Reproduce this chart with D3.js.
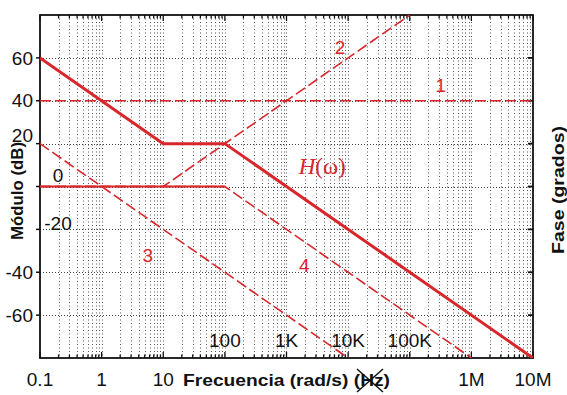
<!DOCTYPE html>
<html>
<head>
<meta charset="utf-8">
<script src="https://cdnjs.cloudflare.com/ajax/libs/d3/7.8.5/d3.min.js"></script>
<style>
  body{margin:0;background:#fff;}
  svg text{font-family:"Liberation Sans",Arial,sans-serif;}
</style>
</head>
<body>
<svg id="chart" width="567" height="395"></svg>
<script>
// data ---------------------------
var xTicks=[0.1,1,10,100,1e3,1e4,1e5,1e6,1e7];
var xTickLabels=['0.1','1','10','100','1K','10K','100K','1M','10M'];
var yTicks=[-60,-40,-20,0,20,40,60];
var yTickLabels=['-60','-40','-20','0','20','40','60'];
// asymptotes [freq, dB]
var curve1=[[0.1,40],[1e7,40]];
var curve2=[[0.1,0],[10,0],[1e5,80]];
var curve3=[[0.1,20],[1e4,-80]];
var curve4=[[0.1,0],[100,0],[1e6,-80]];
var curveH=[[0.1,60],[10,20],[100,20],[1e7,-80]];
var curveLabels=[{t:'1',f:3.2e5,db:47},{t:'2',f:7400,db:65},{t:'3',f:5.6,db:-32},{t:'4',f:1950,db:-37}];

var red='#d8262b';
var svg=d3.select('#chart');
var pLeft=40,pRight=533,pTop=15,pBottom=358;

var x=d3.scaleLog().domain([0.1,1e7]).range([pLeft,pRight]);
var y=d3.scaleLinear().domain([-80,80]).range([pBottom,pTop]);

// grid
var minors=[];
for(var d=0.1;d<1e7;d*=10){
  for(var k=1;k<10;k++){minors.push(d*k);}
}
minors.push(1e7);
svg.append('g').selectAll('line').data(minors.filter(function(v){return v>0.1&&v<1e7;}))
  .join('line')
  .attr('x1',function(v){return Math.round(x(v))+0.5;}).attr('x2',function(v){return Math.round(x(v))+0.5;})
  .attr('y1',pTop).attr('y2',pBottom)
  .attr('stroke','#555').attr('stroke-width',1).attr('stroke-dasharray','1,2.5');
svg.append('g').selectAll('line').data(yTicks)
  .join('line')
  .attr('x1',pLeft).attr('x2',pRight)
  .attr('y1',function(v){return Math.round(y(v))+0.5;}).attr('y2',function(v){return Math.round(y(v))+0.5;})
  .attr('stroke','#444').attr('stroke-width',1).attr('stroke-dasharray','1,2');

// frame + ticks
svg.append('rect').attr('x',pLeft).attr('y',pTop).attr('width',pRight-pLeft).attr('height',pBottom-pTop)
  .attr('fill','none').attr('stroke','#111').attr('stroke-width',1.8);
var tickLen=function(v){
  var e=Math.log10(v);
  return Math.abs(e-Math.round(e))<1e-6?6:3.5;
};
svg.append('g').selectAll('line').data(minors).join('line')
  .attr('x1',function(v){return x(v);}).attr('x2',function(v){return x(v);})
  .attr('y1',pBottom).attr('y2',function(v){return pBottom-tickLen(v);})
  .attr('stroke','#111').attr('stroke-width',1.3);
svg.append('g').selectAll('line').data(minors).join('line')
  .attr('x1',function(v){return x(v);}).attr('x2',function(v){return x(v);})
  .attr('y1',pTop).attr('y2',function(v){return pTop+tickLen(v);})
  .attr('stroke','#111').attr('stroke-width',1.3);
svg.append('g').selectAll('line').data(yTicks).join('line')
  .attr('x1',pRight).attr('x2',pRight-5)
  .attr('y1',function(v){return y(v);}).attr('y2',function(v){return y(v);})
  .attr('stroke','#111').attr('stroke-width',1.8);
svg.append('g').selectAll('line').data(yTicks).join('line')
  .attr('x1',pLeft).attr('x2',pLeft-4)
  .attr('y1',function(v){return y(v);}).attr('y2',function(v){return y(v);})
  .attr('stroke','#111').attr('stroke-width',1.5);

// curves
var line=d3.line().x(function(d){return x(d[0]);}).y(function(d){return y(d[1]);});
svg.append('clipPath').attr('id','clip').append('rect')
  .attr('x',pLeft).attr('y',pTop).attr('width',pRight-pLeft).attr('height',pBottom-pTop);
var g=svg.append('g').attr('clip-path','url(#clip)');
[curve1,curve2,curve3,curve4].forEach(function(c){
  g.append('path').datum(c).attr('d',line)
    .attr('fill','none').attr('stroke',red).attr('stroke-width',1.6)
    .attr('stroke-dasharray','11,4');
});
// the flat 0 dB stretch of 4 reads as a solid line in the original
g.append('path').datum(curve4.slice(0,2)).attr('d',line)
  .attr('fill','none').attr('stroke',red).attr('stroke-width',2);
g.append('path').datum(curveH).attr('d',line)
  .attr('fill','none').attr('stroke',red).attr('stroke-width',3);

// curve labels
svg.append('g').selectAll('text').data(curveLabels).join('text')
  .attr('x',function(d){return x(d.f);}).attr('y',function(d){return y(d.db);})
  .attr('text-anchor','middle').attr('dy','0.35em')
  .attr('fill',red).attr('font-size',19)
  .text(function(d){return d.t;});
var hl=svg.append('text').attr('x',x(3800)).attr('y',y(9.6)).attr('dy','0.35em')
  .attr('text-anchor','middle').attr('fill',red)
  .style('font-family','"Liberation Serif","Times New Roman",serif').attr('font-size',23);
hl.append('tspan').attr('font-style','italic').text('H');
hl.append('tspan').text('(ω)');

// y tick labels
svg.append('g').selectAll('text').data(yTicks).join('text')
  .attr('x',function(v){return (v===0||v===-20)?58:33;})
  .attr('y',function(v){
    if(v===20)return y(v)-8;
    if(v===0)return y(v)-11;
    if(v===-20)return y(v)-6;
    return y(v);
  })
  .attr('dy','0.35em')
  .attr('text-anchor',function(v){return (v===0||v===-20)?'middle':'end';})
  .attr('font-size',19).attr('fill','#111')
  .text(function(v,i){return yTickLabels[i];});

// x tick labels
svg.append('g').selectAll('text').data(xTicks).join('text')
  .attr('x',function(v){return x(v);})
  .attr('y',function(v){return (v>=100&&v<=1e5)?347:386;})
  .attr('text-anchor','middle')
  .attr('font-size',19).attr('fill','#111')
  .text(function(v,i){return xTickLabels[i];});

// axis titles
svg.append('text').attr('x',183).attr('y',386)
  .attr('font-weight','bold').attr('font-size',17).attr('fill','#111')
  .attr('textLength',207).attr('lengthAdjust','spacingAndGlyphs')
  .text('Frecuencia (rad/s) (Hz)');
// strike out Hz
svg.append('line').attr('x1',357).attr('y1',369).attr('x2',383).attr('y2',392).attr('stroke','#111').attr('stroke-width',1.5);
svg.append('line').attr('x1',357).attr('y1',392).attr('x2',383).attr('y2',369).attr('stroke','#111').attr('stroke-width',1.5);

svg.append('text').attr('transform','translate(23,191) rotate(-90)')
  .attr('text-anchor','middle').attr('font-weight','bold').attr('font-size',17).attr('fill','#111')
  .attr('textLength',98).attr('lengthAdjust','spacingAndGlyphs')
  .text('Módulo (dB)');
svg.append('text').attr('transform','translate(564,190) rotate(-90)')
  .attr('text-anchor','middle').attr('font-weight','bold').attr('font-size',17).attr('fill','#111')
  .attr('textLength',128).attr('lengthAdjust','spacingAndGlyphs')
  .text('Fase (grados)');
</script>
</body>
</html>
